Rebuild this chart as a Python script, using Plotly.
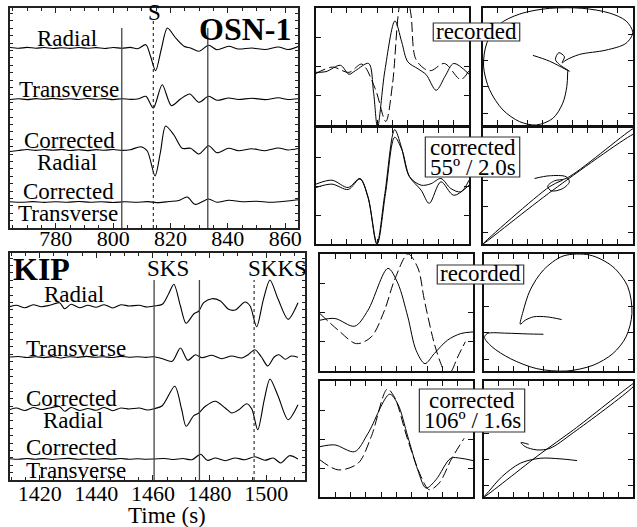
import plotly.graph_objects as go

W, H = 637, 527
SERIF = "Liberation Serif"

# ---------------- OSN-1 seismograms (time in s, amplitude in px) ----------------
osn_radial_t = [764, 767, 770, 773, 776, 779, 782, 785, 788, 791, 794, 797, 800, 803, 806, 808.5,
                811.4, 813, 814.8, 816.8, 818.9, 821.8, 824.7, 827, 829.9, 833.3, 836.2, 840.3,
                843.7, 848.3, 853, 857.6, 861, 864.5]
osn_radial_a = [0.5, -0.3, 0.6, -0.2, 0.5, -0.5, 0.3, -0.4, 0.5, -0.3, 0.4, -0.5, 0.5, -0.3, 0.6, -0.8,
                3.3, -8, -22.7, -1, 20, 10, 1.7, 0, -3.3, 2.7, -1.7, 1.7, -1, 0, -1.5, 1, -1.5, 1.5]

osn_trans_t = [764, 767, 770, 773, 776, 779, 782, 785, 788, 791, 794, 797, 800, 803, 806, 809,
               811.4, 814, 817.1, 820.3, 823.5, 826.7, 829.9, 833.3, 836.2, 840.3, 843.7, 848.3,
               853, 857.6, 861, 864.5]
osn_trans_a = [-0.5, 0.3, -0.6, 0.4, -0.3, 0.6, -0.4, 0.3, -0.5, 0.5, -0.3, 0.4, -0.6, 0.3, -0.4, 0.2,
               2.7, -9, 14.3, -6.7, 0, 5, -3.3, 2.7, -1.3, 1, -0.5, 0.8, -0.6, 1.2, -0.5, 0.3]

osn_crad_t = [764, 767, 770, 773, 776, 779, 782, 785, 788, 791, 794, 797, 800, 803, 806, 809.6,
              811.9, 814.6, 816.5, 818.3, 821.2, 824.1, 827, 829.9, 833.3, 836.2, 840.3, 843.7,
              848.3, 853, 857.6, 861, 864.5]
osn_crad_a = [-1.5, -0.5, 0.5, -0.4, 0.5, -0.3, 0.6, -0.5, 0.3, -0.6, 0.4, -0.3, 0.5, -0.4, 0.3, 3.3,
              -1, -26, -2, 24, 15, 1.7, 1.7, -4, 4.3, -2.7, 1.7, -0.7, 1.3, -0.7, 2, 0, 1.5]

osn_ctrans_t = [764, 768, 772, 776, 780, 784, 788, 792, 796, 800, 804, 808, 812, 816, 819.5, 822.9,
                825.8, 828.5, 830.5, 833.3, 836.2, 840.3, 845, 850, 855, 860, 864.5]
osn_ctrans_a = [0.3, -0.3, 0.4, -0.4, 0.3, -0.3, 0.5, -0.2, 0.3, -0.5, 0.3, -0.3, 0.4, -0.6, 0.5, 1.5,
                5, -2.3, -0.5, 3, -0.3, 1.7, 0.3, 0.8, -0.2, 0.8, 2.3]

osn_solid_marks = [803, 833]
osn_dashed_marks = [814]
osn_ticks = [780, 800, 820, 840, 860]
osn_labels = ["Radial", "Transverse", "Corrected", "Radial", "Corrected", "Transverse"]

# ---------------- KIP seismograms ----------------
kip_radial_t = [1409.5, 1411.8, 1414.8, 1417.7, 1420.6, 1423.5, 1427, 1428.8, 1431.1, 1434.1, 1437,
                1439.9, 1442.8, 1445.8, 1448.7, 1451.6, 1455.1, 1458, 1460.4, 1463.3, 1465.5, 1467.4,
                1469.7, 1471.7, 1474.4, 1476.2, 1477.9, 1480.8, 1483.8, 1486.7, 1489.0, 1492.5,
                1494.3, 1496.6, 1499, 1501.3, 1504.2, 1507.7, 1511.2]
kip_radial_a = [-0.7, 0.7, -1.7, 1.3, -0.7, 0.7, 3.3, -2.7, 1.7, -1.7, 0.7, -1.3, 1.3, -2, 1.3, 0,
                0.7, -1, 0, 1.7, 12, 21.7, 0, -17.3, -8, -5, 3.3, 7.3, 5, -3.3, -4, 4, 0, -20.7,
                6.7, 26, 6.7, -13.3, 3.3]

kip_trans_t = [1409.5, 1412.5, 1415.5, 1418.5, 1421.5, 1424.5, 1427.5, 1430.5, 1433.5, 1436.5,
               1439.5, 1442.5, 1445.5, 1448.5, 1451.5, 1454.5, 1457.5, 1460.4, 1463.3, 1466.8,
               1469.7, 1472.3, 1475, 1477.3, 1480.8, 1484.3, 1487.8, 1491.3, 1493.6, 1496, 1498.3,
               1500.5, 1502.8, 1504.5, 1506.7, 1508.8, 1511.2]
kip_trans_a = [0, 0.5, -0.5, 0.3, -0.6, 0.4, -1, 0.3, -0.4, 0.6, -0.3, 0.2, -0.5, 0.6, -0.2, 0.3,
               -0.4, 0.3, -1.7, -4.3, 9, -3.3, 2.3, -0.7, 1.7, -1.7, 1, -1, 2.3, 7.3, 0, -9, 0,
               2.3, -2.3, 1, -0.3]

kip_crad_t = [1409.5, 1411.8, 1414.8, 1417.7, 1420.6, 1423.5, 1427, 1428.8, 1431.1, 1434.1, 1437,
              1439.9, 1442.8, 1445.8, 1448.7, 1451.6, 1455.1, 1458, 1460.4, 1463.3, 1467.7, 1470.1,
              1471.7, 1474.4, 1476.2, 1478.5, 1482, 1485.5, 1487.8, 1490.2, 1493.1, 1494.9, 1497,
              1499.3, 1501.3, 1504.2, 1507.7, 1511.2]
kip_crad_a = [-0.5, 1, -1.5, 1.5, -0.5, 1, 2.5, -2.3, 1.5, -1.5, 0.5, -1.3, 1.5, -1.7, 1, 0, 1, -1,
              0.3, 3.3, 22.7, 0, -17.3, -6.7, -4, 2.7, 7.7, 1, -4, -1, 5.3, 0, -20.7, 9.3, 30,
              12.7, -10.7, 4.3]

kip_ctrans_t = [1409.5, 1412.5, 1415.5, 1418.5, 1421.5, 1424.5, 1427.5, 1430.5, 1433.5, 1436.5,
                1439.5, 1442.5, 1445.5, 1448.5, 1451.5, 1454.5, 1457.5, 1460.4, 1464, 1467.5,
                1470.5, 1473.8, 1476.8, 1479.2, 1482, 1485.5, 1489, 1492.5, 1496, 1499.5, 1502.5,
                1505.1, 1508.2, 1511.2]
kip_ctrans_a = [0.3, -0.3, 0.5, -0.2, 0.4, -0.5, 0.3, 0.6, -0.3, 0.2, -0.4, 0.4, -0.2, 0.5, -0.3,
                0.3, -0.2, 0, 0.5, -0.5, 0.5, -0.7, 4.7, -1.3, 1, -1.7, 1, -0.7, 2.3, -1.3, 1, -4,
                3.3, 0]

kip_solid_marks = [1460.4, 1476.4]
kip_dashed_marks = [1495.7]
kip_ticks = [1420, 1440, 1460, 1480, 1500]

# ---------------- right-hand panels (normalised units) ----------------
# OSN-1 recorded waveforms
a1_solid_x = [0, 0.065, 0.16, 0.215, 0.258, 0.344, 0.376, 0.402, 0.45, 0.516, 0.56, 0.6, 0.667,
              0.72, 0.785, 0.845, 0.9, 1.0]
a1_solid_y = [0.45, 0.456, 0.51, 0.434, 0.465, 0.526, 0.28, -0.02, 0.465, 0.89, 0.71, 0.54, 0.48,
              0.43, 0.297, 0.42, 0.526, 0.434]
a1_dash_x = [0, 0.107, 0.215, 0.30, 0.387, 0.456, 0.50, 0.55, 0.585, 0.62, 0.65, 0.71, 0.753,
             0.839, 0.946, 1.0]
a1_dash_y = [0.44, 0.495, 0.45, 0.52, 0.31, 0.03, 0.35, 1.05, 1.15, 0.95, 0.57, 0.48, 0.465,
             0.526, 0.388, 0.465]
# OSN-1 recorded particle motion
a2_x = [0.333, 0.443, 0.576, 0.51, 0.483, 0.506, 0.543, 0.528, 0.554, 0.643, 0.82, 0.953, 0.998,
        0.953, 0.843, 0.665, 0.443, 0.244, 0.111, 0.027, 0.004, 0.044, 0.133, 0.244, 0.355, 0.466,
        0.532, 0.559, 0.565]
a2_y = [0.595, 0.546, 0.46, 0.517, 0.56, 0.618, 0.583, 0.532, 0.555, 0.603, 0.64, 0.698, 0.79,
        0.89, 0.957, 0.997, 0.997, 0.948, 0.862, 0.704, 0.503, 0.302, 0.129, 0.029, 0.0, 0.057,
        0.187, 0.33, 0.46]
# OSN-1 corrected waveforms
b1_c1_x = [0, 0.104, 0.21, 0.287, 0.34, 0.397, 0.45, 0.514, 0.557, 0.611, 0.687, 0.752, 0.816,
           0.881, 0.946, 1.0]
b1_c1_y = [0.516, 0.55, 0.487, 0.565, 0.406, 0.0, 0.435, 0.986, 0.84, 0.58, 0.507, 0.52, 0.565,
           0.478, 0.45, 0.55]
b1_c2_x = [0, 0.104, 0.21, 0.287, 0.34, 0.40, 0.454, 0.514, 0.562, 0.611, 0.687, 0.74, 0.816,
           0.9, 1.0]
b1_c2_y = [0.487, 0.516, 0.47, 0.56, 0.4, 0.0, 0.435, 0.92, 0.81, 0.58, 0.464, 0.35, 0.536, 0.42,
           0.507]
# OSN-1 corrected particle motion
b2_x = [0.344, 0.443, 0.554, 0.576, 0.532, 0.455, 0.432, 0.477, 0.554, 1.0, 1.04, 1.04, 1.0,
        0.466, 0.0, 0.443, 0.532]
b2_y = [0.565, 0.588, 0.58, 0.536, 0.478, 0.458, 0.499, 0.545, 0.565, 0.994, 1.015, 0.962, 0.945,
        0.464, 0.0, 0.493, 0.551]
# KIP recorded waveforms
c1_solid_x = [0, 0.097, 0.227, 0.314, 0.444, 0.509, 0.574, 0.628, 0.686, 0.747, 0.833, 0.92, 1.0]
c1_solid_y = [0.434, 0.449, 0.383, 0.52, 0.877, 0.749, 0.463, 0.177, 0.063, 0.149, 0.263, 0.32,
              0.334]
c1_dash_x = [0, 0.119, 0.238, 0.335, 0.422, 0.487, 0.575, 0.64, 0.682, 0.747, 0.79, 0.83, 0.86,
             0.90, 0.95]
c1_dash_y = [0.49, 0.349, 0.234, 0.291, 0.52, 0.777, 1.0, 0.88, 0.606, 0.234, 0.063, -0.05, 0.0,
             0.12, 0.25]
# KIP recorded particle motion
c2_x = [0.521, 0.421, 0.333, 0.277, 0.244, 0.262, 0.31, 0.399, 0.532, 0.71, 0.865, 0.965, 0.993,
        0.953, 0.865, 0.732, 0.554, 0.355, 0.177, 0.055, 0.004, 0.022, 0.155, 0.288, 0.399]
c2_y = [0.44, 0.463, 0.463, 0.434, 0.4, 0.506, 0.691, 0.863, 0.983, 0.991, 0.891, 0.72, 0.491,
        0.291, 0.149, 0.049, 0.0, 0.02, 0.106, 0.206, 0.286, 0.32, 0.323, 0.317, 0.314]
# KIP corrected waveforms
d1_solid_x = [0, 0.097, 0.227, 0.314, 0.455, 0.509, 0.574, 0.639, 0.693, 0.758, 0.855, 0.92, 1.0]
d1_solid_y = [0.434, 0.449, 0.391, 0.549, 0.886, 0.80, 0.52, 0.234, 0.077, 0.149, 0.334, 0.334,
              0.314]
d1_dash_x = [0, 0.119, 0.249, 0.335, 0.44, 0.487, 0.574, 0.66, 0.714, 0.779, 0.86, 0.942]
d1_dash_y = [0.32, 0.234, 0.291, 0.52, 0.93, 0.86, 0.491, 0.177, 0.063, 0.12, 0.33, 0.506]
# KIP corrected particle motion
d2_x = [0.625, 0.51, 0.377, 0.244, 0.122, 0.033, 0.0, 0.377, 0.599, 1.0, 1.03, 1.0, 0.599, 0.443,
        0.355, 0.277, 0.248, 0.3]
d2_y = [0.314, 0.329, 0.334, 0.291, 0.177, 0.049, 0.0, 0.371, 0.577, 0.977, 1.0, 0.949, 0.554,
        0.42, 0.406, 0.434, 0.469, 0.454]

# ---------------- figure ----------------
def fx(p):
    return p / W


def fy(p):
    return 1 - p / H


fig = go.Figure()
BLACK = "black"


def add_line(x, y, xa, ya, dash=None, smoothing=0.8, width=1.1):
    fig.add_trace(go.Scatter(
        x=x, y=y, mode="lines", xaxis=xa, yaxis=ya, showlegend=False, hoverinfo="skip",
        line=dict(color=BLACK, width=width, shape="spline", smoothing=smoothing, dash=dash)))


# left seismogram panels
osn_set = [(osn_radial_t, osn_radial_a), (osn_trans_t, osn_trans_a),
           (osn_crad_t, osn_crad_a), (osn_ctrans_t, osn_ctrans_a)]
osn_base = [180, 129, 78, 26]
for (t, a), b in zip(osn_set, osn_base):
    add_line(t, [b + v for v in a], "x", "y")

kip_set = [(kip_radial_t, kip_radial_a), (kip_trans_t, kip_trans_a),
           (kip_crad_t, kip_crad_a), (kip_ctrans_t, kip_ctrans_a)]
kip_base = [174, 123, 71, 21]
for (t, a), b in zip(kip_set, kip_base):
    add_line(t, [b + v for v in a], "x2", "y2")

# right panels
right = [
    ("3", [(a1_solid_x, a1_solid_y, None), (a1_dash_x, a1_dash_y, "10px,4px")]),
    ("4", [(a2_x, a2_y, None)]),
    ("5", [(b1_c1_x, b1_c1_y, None), (b1_c2_x, b1_c2_y, None)]),
    ("6", [(b2_x, b2_y, None)]),
    ("7", [(c1_solid_x, c1_solid_y, None), (c1_dash_x, c1_dash_y, "10px,4px")]),
    ("8", [(c2_x, c2_y, None)]),
    ("9", [(d1_solid_x, d1_solid_y, None), (d1_dash_x, d1_dash_y, "10px,4px")]),
    ("10", [(d2_x, d2_y, None)]),
]
for n, curves in right:
    for cx, cy, dsh in curves:
        add_line(cx, cy, "x" + n, "y" + n, dash=dsh, smoothing=0.9, width=1.0)

layout = dict(width=W, height=H, margin=dict(l=0, r=0, t=0, b=0),
              paper_bgcolor="white", plot_bgcolor="white", showlegend=False,
              font=dict(family=SERIF, color=BLACK))


def left_x(dom, rng, anchor, ticks, standoff):
    return dict(domain=dom, range=rng, anchor=anchor, showline=True, linecolor="#222",
                linewidth=1.5, mirror="allticks", ticks="inside", ticklen=5, tickwidth=1,
                tickcolor="#222", tickvals=ticks, showgrid=False, zeroline=False,
                ticklabelstandoff=standoff,
                tickfont=dict(family=SERIF, size=22, color=BLACK),
                minor=dict(dtick=5, ticks="inside", ticklen=3, tickcolor="#222", showgrid=False))


def left_y(dom, rng, anchor):
    return dict(domain=dom, range=rng, anchor=anchor, showline=True, linecolor="#222",
                linewidth=1.5, mirror="allticks", ticks="inside", ticklen=3, tickwidth=1,
                tickcolor="#222", dtick=7.4, tick0=0, showticklabels=False, showgrid=False,
                zeroline=False)


layout["xaxis"] = left_x([fx(10), fx(300)], [764, 864.5], "y", osn_ticks, -10)
layout["yaxis"] = left_y([fy(228), fy(8)], [0, 220], "x")
layout["xaxis2"] = left_x([fx(10), fx(307)], [1409.5, 1513.7], "y2", kip_ticks, -7)
layout["yaxis2"] = left_y([fy(480), fy(253)], [0, 227], "x2")

boxes = {
    "3": (318, 472, 8, 125, "w"), "4": (486, 637, 8, 125, "p"),
    "5": (318, 472, 128, 244, "w"), "6": (486, 637, 128, 244, "p"),
    "7": (322, 476, 254, 371, "w"), "8": (487, 637, 254, 371, "p"),
    "9": (322, 476, 381, 497, "w"), "10": (487, 637, 381, 497, "p"),
}
for n, (x0, x1, y0, y1, kind) in boxes.items():
    common = dict(showline=True, linecolor="#111", linewidth=1.8, mirror="allticks",
                  ticks="inside", ticklen=5, tickwidth=1, tickcolor="#111",
                  showticklabels=False, showgrid=False, zeroline=False)
    layout["xaxis" + n] = dict(domain=[fx(x0), min(1.0, fx(x1))], range=[0, 1], anchor="y" + n,
                               tick0=0, dtick=0.1, **common)
    if kind == "w":
        layout["yaxis" + n] = dict(domain=[fy(y1), fy(y0)], range=[0, 1], anchor="x" + n,
                                   tick0=0, dtick=0.25, **common)
    else:
        layout["yaxis" + n] = dict(domain=[fy(y1), fy(y0)], range=[0, 1], anchor="x" + n,
                                   tick0=0.101, dtick=0.225, **common)

shapes = []
# phase markers
for t in osn_solid_marks:
    shapes.append(dict(type="line", xref="x", yref="paper", x0=t, x1=t, y0=fy(228), y1=fy(28),
                       line=dict(color="#444", width=1.3)))
for t in osn_dashed_marks:
    shapes.append(dict(type="line", xref="x", yref="paper", x0=t, x1=t, y0=fy(228), y1=fy(21),
                       line=dict(color="#222", width=1.1, dash="3px,3px")))
for t in kip_solid_marks:
    shapes.append(dict(type="line", xref="x2", yref="paper", x0=t, x1=t, y0=fy(480), y1=fy(280),
                       line=dict(color="#444", width=1.3)))
for t in kip_dashed_marks:
    shapes.append(dict(type="line", xref="x2", yref="paper", x0=t, x1=t, y0=fy(480), y1=fy(280),
                       line=dict(color="#222", width=1.1, dash="3px,3px")))

# label boxes
label_boxes = [(436, 523, 23, 41), (428, 523, 137, 177), (440, 527, 265, 284), (422, 528, 389, 432)]
for x0, x1, y0, y1 in label_boxes:
    shapes.append(dict(type="rect", xref="paper", yref="paper", x0=fx(x0), x1=fx(x1),
                       y0=fy(y1), y1=fy(y0), line=dict(color="#333", width=1.2),
                       fillcolor="white", layer="above"))
layout["shapes"] = shapes

ann = []


def text(t, x, y, size=23):
    ann.append(dict(text=t, x=fx(x), y=fy(y), xref="paper", yref="paper", showarrow=False,
                    xanchor="center", yanchor="middle",
                    font=dict(family=SERIF, size=size, color=BLACK)))


osn_pos = [(67, 38), (69, 89), (70, 140), (67, 162), (69, 192), (68, 213)]
for lab, (x, y) in zip(osn_labels, osn_pos):
    text(lab, x, y)
kip_pos = [(74, 294), (76, 348), (72, 398), (73, 420), (72, 447), (76, 470)]
for lab, (x, y) in zip(osn_labels, kip_pos):
    text(lab, x, y)

text("<b>OSN-1</b>", 247, 29, 32)
text("S", 155, 12)
text("<b>KIP</b>", 42, 269, 32)
text("SKS", 169, 269)
text("SKKS", 279, 269)
text("Time (s)", 168, 515)

text("recorded", 479.5, 31)
text("corrected", 475.5, 148)
text("55º / 2.0s", 475.5, 167)
text("recorded", 483.5, 273)
text("corrected", 475, 400)
text("106º / 1.6s", 475, 420)

layout["annotations"] = ann
fig.update_layout(**layout)
fig.write_html("out.html", config={"displayModeBar": False},
               post_script="document.body.style.margin='0';document.body.style.overflow='hidden';")
